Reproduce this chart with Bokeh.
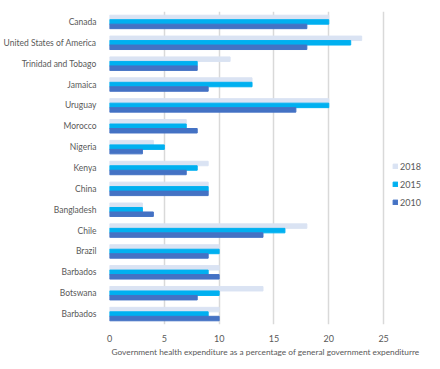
from bokeh.plotting import figure
from bokeh.models import ColumnDataSource, Legend, LegendItem, Title, FixedTicker, Range1d
from bokeh.transform import dodge
from bokeh.embed import file_html
from bokeh.resources import INLINE

countries = ["Canada", "United States of America", "Trinidad and Tobago", "Jamaica",
             "Uruguay", "Morocco", "Nigeria", "Kenya", "China", "Bangladesh", "Chile",
             "Brazil", "Barbados", "Botswana", "Barbados"]
v2018 = [20, 23, 11, 13, 20, 7, 4, 9, 9, 3, 18, 10, 10, 14, 10]
v2015 = [20, 22, 8, 13, 20, 7, 5, 8, 9, 3, 16, 10, 9, 10, 9]
v2010 = [18, 18, 8, 9, 17, 8, 3, 7, 9, 4, 14, 9, 10, 8, 10]
x_ticks = [0, 5, 10, 15, 20, 25]
series_names = ["2018", "2015", "2010"]
colors = ["#dae3f3", "#00b0f0", "#4472c4"]

pos = list(range(1, len(countries) + 1))
src = ColumnDataSource(dict(y=pos, v2018=v2018, v2015=v2015, v2010=v2010))

FONT = "Lato"
TXT = "#595959"

p = figure(width=424, height=361, output_backend="svg", toolbar_location=None,
           x_range=Range1d(0, 28.73), y_range=Range1d(15.5, 0.5),
           min_border_left=108, min_border_right=0, min_border_top=11, min_border_bottom=37)

bh = 0.215
r18 = p.hbar(y=dodge("y", -bh, range=None), right="v2018", left=0, height=bh, source=src,
             color=colors[0])
r15 = p.hbar(y=dodge("y", 0, range=None), right="v2015", left=0, height=bh, source=src,
             color=colors[1])
r10 = p.hbar(y=dodge("y", bh, range=None), right="v2010", left=0, height=bh, source=src,
             color=colors[2])

p.outline_line_color = None
p.ygrid.grid_line_color = None
p.xgrid.grid_line_color = "#d9d9d9"
p.xgrid.grid_line_width = 1.5
p.xgrid.ticker = FixedTicker(ticks=x_ticks)

p.xaxis.ticker = FixedTicker(ticks=x_ticks)
p.xaxis.axis_line_color = None
p.xaxis.major_tick_line_color = None
p.xaxis.minor_tick_line_color = None
p.xaxis.major_label_text_font = FONT
p.xaxis.major_label_text_font_size = "9px"
p.xaxis.major_label_text_color = TXT
p.xaxis.major_label_standoff = 4

p.yaxis.ticker = FixedTicker(ticks=pos)
p.yaxis.major_label_overrides = {i: c for i, c in zip(pos, countries)}
p.yaxis.axis_line_color = None
p.yaxis.major_tick_line_color = None
p.yaxis.minor_tick_line_color = None
p.yaxis.major_label_text_font = FONT
p.yaxis.major_label_text_font_size = "8.5px"
p.yaxis.major_label_text_color = TXT
p.yaxis.major_label_standoff = 7

t = Title(text="Government health expenditure as a percentage of general government expenditurre",
          align="left", offset=2, text_font=FONT, text_font_size="8.3px",
          text_color=TXT, text_font_style="normal", standoff=0)
p.add_layout(t, "below")

legend = Legend(items=[LegendItem(label=series_names[0], renderers=[r18]),
                       LegendItem(label=series_names[1], renderers=[r15]),
                       LegendItem(label=series_names[2], renderers=[r10])],
                location=(283, 116), orientation="vertical",
                label_text_font=FONT, label_text_font_size="9px", label_text_color=TXT,
                glyph_width=6, glyph_height=6, spacing=6, padding=0, margin=0,
                label_standoff=2, label_height=12,
                background_fill_alpha=0, border_line_color=None)
p.add_layout(legend, "center")

open("out.html", "w").write(file_html(p, INLINE))
